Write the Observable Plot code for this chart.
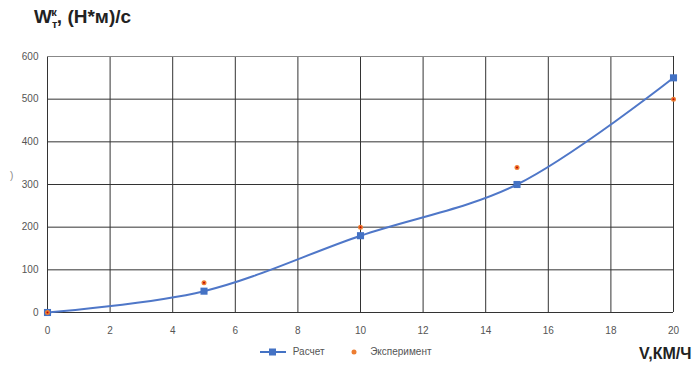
<!DOCTYPE html>
<html><head><meta charset="utf-8">
<script src="https://cdn.jsdelivr.net/npm/d3@7"></script>
<script src="https://cdn.jsdelivr.net/npm/@observablehq/plot@0.6"></script>
<style>
body{margin:0;background:#fff;font-family:"Liberation Sans",Arial,sans-serif;}
#wrap{position:relative;width:700px;height:367px;overflow:hidden;}
.abs{position:absolute;white-space:nowrap;}
</style></head>
<body><div id="wrap">
<div id="chart"></div>
<div class="abs" style="left:34px;top:6px;font-size:19px;font-weight:bold;color:#222;">W<sub style="font-size:11px">т</sub><sup style="font-size:11px;margin-left:-6px">к</sup>, (Н*м)/с</div>
<div class="abs" style="left:10px;top:170px;font-size:10px;color:#888;">)</div>
<div class="abs" style="left:639px;top:345px;font-size:16px;font-weight:bold;color:#222;">V,КМ/Ч</div>
<div class="abs" style="left:260px;top:346px;font-size:10px;color:#555;">
  <svg width="28" height="10" style="vertical-align:middle"><line x1="0" y1="5" x2="26" y2="5" stroke="#4472C4" stroke-width="2"/><rect x="9" y="1.5" width="7" height="7" fill="#4472C4"/></svg>
  <span style="margin-left:2px">Расчет</span>
  <svg width="10" height="10" style="vertical-align:middle;margin-left:22px"><circle cx="5" cy="5" r="2.5" fill="#ED7D31"/></svg>
  <span style="margin-left:8px">Эксперимент</span>
</div>
</div>
<script>
const xCalc = [0, 5, 10, 15, 20];
const yCalc = [0, 50, 180, 300, 550];
const xExp = [0, 5, 10, 15, 20];
const yExp = [0, 70, 200, 340, 500];
const xTicks = [0, 2, 4, 6, 8, 10, 12, 14, 16, 18, 20];
const yTicks = [0, 100, 200, 300, 400, 500, 600];

const calc = xCalc.map((x, i) => ({x, y: yCalc[i]}));
const exp = xExp.map((x, i) => ({x, y: yExp[i]}));

const chart = Plot.plot({
  width: 700, height: 367,
  marginLeft: 47, marginRight: 27, marginTop: 56, marginBottom: 55,
  x: {domain: [0, 20]},
  y: {domain: [0, 600]},
  style: {fontFamily: "Liberation Sans, Arial, sans-serif", background: "transparent"},
  marks: [
    Plot.ruleX(xTicks, {stroke: "#333", strokeWidth: 1, strokeOpacity: 1}),
    Plot.ruleY(yTicks, {stroke: d => d === 600 ? "#888" : "#333", strokeWidth: 1, strokeOpacity: 1}),
    Plot.axisX(xTicks, {tickSize: 0, tickPadding: 14, fontSize: 10, fill: "#555", label: null}),
    Plot.axisY(yTicks, {tickSize: 0, tickPadding: 9, fontSize: 10, fill: "#555", label: null}),
    Plot.line(calc, {x: "x", y: "y", stroke: "#4F77C8", strokeWidth: 2, curve: "catmull-rom"}),
    Plot.dot(calc, {x: "x", y: "y", symbol: "square", r: 4, fill: "#4472C4", stroke: "none"}),
    Plot.dot(exp, {x: "x", y: "y", r: 2.5, fill: "#ED7D31", stroke: "none"}),
    Plot.dot(exp, {x: "x", y: "y", r: 1, fill: "#C00000", stroke: "none"})
  ]
});
document.getElementById("chart").appendChild(chart);
</script>
</body></html>
